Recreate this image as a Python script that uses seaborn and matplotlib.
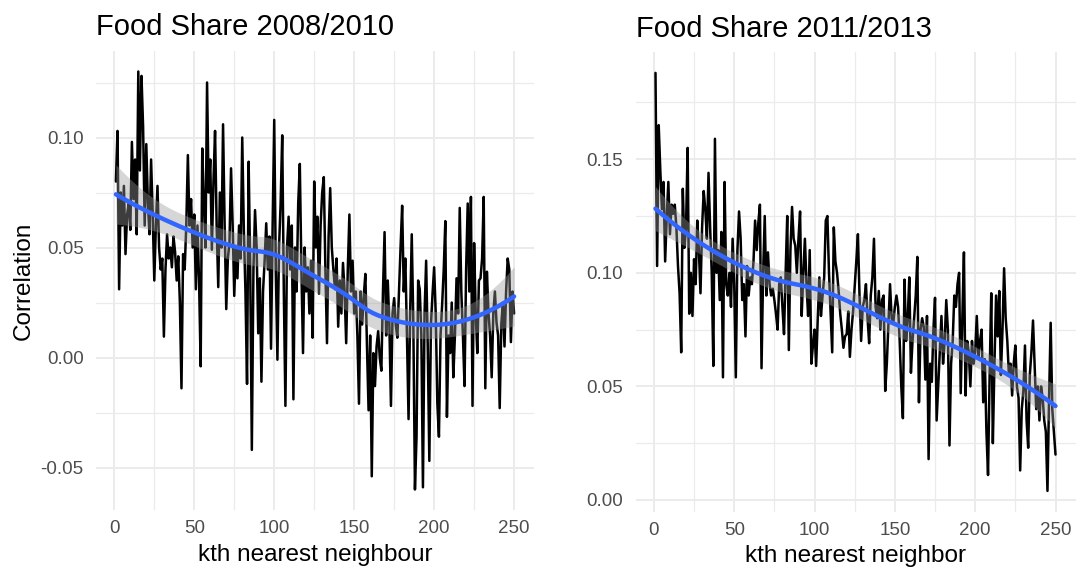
import numpy as np
import pandas as pd
import matplotlib
matplotlib.use("Agg")
import matplotlib.pyplot as plt
from matplotlib.ticker import FixedLocator, AutoMinorLocator, FuncFormatter
import seaborn as sns

# ---------------- data ----------------
k = list(range(1, 251))

share_2008_2010 = [
    0.080, 0.103, 0.031, 0.075, 0.060, 0.078, 0.047, 0.065, 0.070, 0.058,
    0.098, 0.072, 0.090, 0.056, 0.130, 0.085, 0.128, 0.105, 0.060, 0.097,
    0.070, 0.056, 0.090, 0.065, 0.035, 0.060, 0.078, 0.050, 0.040, 0.045,
    0.0095, 0.040, 0.056, 0.045, 0.050, 0.041, 0.055, 0.048, 0.035, 0.046,
    0.025, -0.014, 0.047, 0.040, 0.060, 0.092, 0.060, 0.072, 0.050, 0.065,
    0.031, 0.060, 0.035, -0.004, 0.095, 0.070, 0.050, 0.125, 0.075, 0.090,
    0.049, 0.080, 0.103, 0.060, 0.032, 0.075, 0.050, 0.106, 0.060, 0.022,
    0.045, 0.052, 0.086, 0.060, 0.028, 0.050, 0.036, 0.060, 0.045, 0.100,
    0.058, 0.030, -0.012, 0.089, 0.040, -0.042, 0.040, 0.067, 0.050, 0.011,
    0.036, -0.011, 0.030, 0.044, 0.061, 0.040, 0.055, 0.004, 0.060, 0.108,
    0.040, -0.001, 0.050, 0.070, 0.101, 0.030, -0.022, 0.050, 0.064, 0.040,
    0.060, -0.019, 0.050, 0.030, 0.070, 0.088, 0.040, 0.002, 0.050, 0.030,
    0.041, 0.020, 0.044, 0.009, 0.080, 0.050, 0.064, 0.029, 0.060, 0.075,
    0.082, 0.040, 0.0065, 0.055, 0.077, 0.050, 0.040, 0.031, 0.045, 0.014,
    0.035, 0.020, 0.043, 0.030, 0.0065, 0.040, 0.065, 0.030, 0.044, 0.020,
    0.030, 0.010, -0.021, 0.030, 0.015, 0.028, 0.038, 0.005, -0.024, 0.010,
    -0.054, 0.002, -0.013, 0.005, 0.012, 0.000, -0.006, 0.030, 0.057, 0.010,
    0.035, 0.015, -0.022, 0.020, 0.027, 0.015, 0.009, 0.030, 0.050, 0.069,
    0.030, 0.045, 0.010, -0.028, 0.020, 0.056, 0.015, -0.060, -0.036, 0.035,
    0.031, 0.010, -0.059, 0.020, 0.044, 0.005, -0.047, 0.015, 0.029, 0.041,
    0.020, -0.021, -0.036, 0.010, 0.024, 0.040, 0.062, -0.027, 0.010, 0.002,
    0.025, -0.009, 0.010, 0.036, 0.020, 0.068, 0.030, 0.010, -0.013, 0.040,
    0.070, 0.030, 0.073, -0.022, 0.052, 0.020, 0.002, 0.035, 0.036, 0.045,
    0.073, -0.014, 0.039, 0.020, 0.010, -0.009, 0.020, 0.030, 0.016, 0.010,
    -0.023, 0.015, 0.025, 0.005, 0.030, 0.045, 0.040, 0.007, 0.030, 0.020,
]

share_2011_2013 = [
    0.188, 0.103, 0.165, 0.145, 0.128, 0.140, 0.105, 0.125, 0.140, 0.117,
    0.130, 0.126, 0.130, 0.120, 0.103, 0.091, 0.065, 0.137, 0.111, 0.120,
    0.155, 0.082, 0.100, 0.081, 0.106, 0.095, 0.123, 0.110, 0.091, 0.120,
    0.136, 0.128, 0.115, 0.144, 0.120, 0.100, 0.059, 0.159, 0.100, 0.110,
    0.088, 0.118, 0.054, 0.140, 0.095, 0.090, 0.100, 0.085, 0.115, 0.095,
    0.054, 0.110, 0.127, 0.115, 0.088, 0.095, 0.072, 0.103, 0.090, 0.098,
    0.095, 0.105, 0.123, 0.110, 0.122, 0.130, 0.058, 0.100, 0.125, 0.090,
    0.109, 0.095, 0.090, 0.093, 0.088, 0.082, 0.075, 0.095, 0.098, 0.085,
    0.073, 0.100, 0.125, 0.066, 0.110, 0.129, 0.115, 0.112, 0.100, 0.115,
    0.127, 0.081, 0.100, 0.115, 0.095, 0.081, 0.110, 0.060, 0.068, 0.075,
    0.059, 0.080, 0.098, 0.081, 0.090, 0.098, 0.123, 0.125, 0.100, 0.082,
    0.065, 0.120, 0.105, 0.100, 0.092, 0.082, 0.075, 0.067, 0.072, 0.073,
    0.083, 0.063, 0.075, 0.083, 0.094, 0.105, 0.117, 0.090, 0.070, 0.085,
    0.088, 0.095, 0.080, 0.069, 0.090, 0.098, 0.115, 0.085, 0.080, 0.092,
    0.075, 0.088, 0.090, 0.048, 0.060, 0.078, 0.095, 0.080, 0.078, 0.085,
    0.090, 0.085, 0.070, 0.050, 0.036, 0.097, 0.070, 0.080, 0.098, 0.056,
    0.070, 0.080, 0.090, 0.107, 0.043, 0.075, 0.080, 0.076, 0.053, 0.081,
    0.018, 0.060, 0.052, 0.075, 0.089, 0.035, 0.050, 0.065, 0.081, 0.060,
    0.070, 0.088, 0.075, 0.024, 0.060, 0.070, 0.090, 0.085, 0.095, 0.100,
    0.047, 0.080, 0.109, 0.046, 0.070, 0.065, 0.050, 0.070, 0.060, 0.065,
    0.081, 0.063, 0.070, 0.075, 0.043, 0.062, 0.030, 0.011, 0.055, 0.091,
    0.025, 0.060, 0.090, 0.072, 0.092, 0.055, 0.075, 0.102, 0.080, 0.070,
    0.055, 0.060, 0.046, 0.060, 0.068, 0.050, 0.045, 0.013, 0.040, 0.048,
    0.068, 0.035, 0.023, 0.055, 0.065, 0.079, 0.060, 0.040, 0.050, 0.035,
    0.050, 0.045, 0.035, 0.030, 0.004, 0.045, 0.078, 0.040, 0.030, 0.020,
]

titles = ["Food Share 2008/2010", "Food Share 2011/2013"]
xlabels = ["kth nearest neighbour", "kth nearest neighbor"]
ylabel = "Correlation"
x_ticks = [0, 50, 100, 150, 200, 250]
y_ticks_left = [-0.05, 0.00, 0.05, 0.10]
y_ticks_right = [0.00, 0.05, 0.10, 0.15]


# ---------------- loess (R default: span .75, degree 2) ----------------
def loess_weights(x, x0, span=0.75):
    n = len(x)
    q = int(np.floor(n * span))
    d = np.abs(x - x0)
    h = np.sort(d)[q - 1]
    u = np.clip(d / h, 0, 1)
    w = (1 - u ** 3) ** 3
    X = np.column_stack([np.ones(n), x - x0, (x - x0) ** 2])
    XtW = X.T * w
    A = XtW @ X
    return np.linalg.solve(A, XtW)[0]


def loess_fit(x, y, n_out=80, span=0.75):
    x = np.asarray(x, float)
    y = np.asarray(y, float)
    n = len(x)
    L = np.array([loess_weights(x, xi, span) for xi in x])
    resid = y - L @ y
    M = np.eye(n) - L
    MM = M.T @ M
    one_delta = np.trace(MM)
    sigma = np.sqrt(np.sum(resid ** 2) / one_delta)
    xo = np.linspace(x.min(), x.max(), n_out)
    Lo = np.array([loess_weights(x, xi, span) for xi in xo])
    fit = Lo @ y
    se = sigma * np.sqrt(np.sum(Lo ** 2, axis=1))
    t = 1.97
    return xo, fit, fit - t * se, fit + t * se


# ---------------- style ----------------
sns.set_theme(style="white")
plt.rcParams["font.family"] = ["Liberation Sans", "DejaVu Sans"]

fig = plt.figure(figsize=(10.76, 5.72), dpi=100)
ax_l = fig.add_axes([96 / 1076, (572 - 510.4) / 572, 438 / 1076, 459.8 / 572])
ax_r = fig.add_axes([635.5 / 1076, (572 - 511.8) / 572, 440 / 1076, 459.8 / 572])

panels = [
    (ax_l, share_2008_2010, y_ticks_left, titles[0], xlabels[0], ylabel),
    (ax_r, share_2011_2013, y_ticks_right, titles[1], xlabels[1], None),
]

for ax, vals, yt, title, xl, yl in panels:
    df = pd.DataFrame({"k": k, "corr": vals})
    sns.lineplot(data=df, x="k", y="corr", ax=ax, color="black", lw=1.8,
                 zorder=2)
    xo, fit, lo, hi = loess_fit(df["k"].values, df["corr"].values)
    ax.fill_between(xo, lo, hi, color="#999999", alpha=0.4, lw=0, zorder=3)
    sns.lineplot(x=xo, y=fit, ax=ax, color="#3366FF", lw=3.2, zorder=4)

    ymin, ymax = min(vals), max(vals)
    yr = ymax - ymin
    ax.set_ylim(ymin - 0.05 * yr, ymax + 0.05 * yr)
    ax.set_xlim(1 - 0.05 * 249, 250 + 0.05 * 249)

    ax.xaxis.set_major_locator(FixedLocator(x_ticks))
    ax.yaxis.set_major_locator(FixedLocator(yt))
    ax.xaxis.set_minor_locator(AutoMinorLocator(2))
    ax.yaxis.set_minor_locator(AutoMinorLocator(2))
    ax.yaxis.set_major_formatter(FuncFormatter(lambda v, p: f"{v:.2f}"))
    ax.xaxis.set_major_formatter(FuncFormatter(lambda v, p: f"{int(round(v))}"))

    ax.grid(which="major", color="#EBEBEB", lw=1.4, zorder=0)
    ax.grid(which="minor", color="#EBEBEB", lw=0.9, zorder=0)
    ax.set_axisbelow(True)
    for s in ax.spines.values():
        s.set_visible(False)
    ax.tick_params(axis="both", which="both", length=0, labelsize=13.5,
                   labelcolor="#4D4D4D")
    ax.tick_params(axis="x", pad=7)
    ax.tick_params(axis="y", pad=9)

    ax.set_title(title, loc="left", fontsize=21, color="black", pad=11)
    ax.set_xlabel(xl, fontsize=17.5, color="black", labelpad=5)
    if yl:
        ax.set_ylabel(yl, fontsize=17.5, color="black", labelpad=4)
    else:
        ax.set_ylabel("")

fig.savefig("out.png", dpi=100, facecolor="white")
